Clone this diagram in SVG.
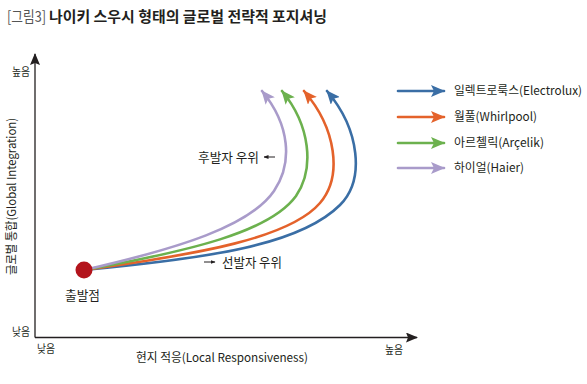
<svg xmlns="http://www.w3.org/2000/svg" width="587" height="384" viewBox="0 0 587 384">
<style>
text{font-family:"Noto Sans CJK KR","Noto Sans",sans-serif;fill:#231f20;}
.t{font-size:12px;}
.s{font-size:11px;}
.c{fill:none;stroke-width:2.6;stroke-linecap:round;}
.ax{stroke:#231f20;stroke-width:1.3;fill:none;}
</style>
<defs>
<marker id="hb" markerWidth="14" markerHeight="12" refX="13" refY="6" orient="auto" markerUnits="userSpaceOnUse"><path d="M0,0 L14,6 L0,12 L3,6 Z" fill="#3a6ea5"/></marker>
<marker id="ho" markerWidth="14" markerHeight="12" refX="13" refY="6" orient="auto" markerUnits="userSpaceOnUse"><path d="M0,0 L14,6 L0,12 L3,6 Z" fill="#e4622b"/></marker>
<marker id="hg" markerWidth="14" markerHeight="12" refX="13" refY="6" orient="auto" markerUnits="userSpaceOnUse"><path d="M0,0 L14,6 L0,12 L3,6 Z" fill="#6cb14e"/></marker>
<marker id="hp" markerWidth="14" markerHeight="12" refX="13" refY="6" orient="auto" markerUnits="userSpaceOnUse"><path d="M0,0 L14,6 L0,12 L3,6 Z" fill="#a99bca"/></marker>
<marker id="hk" markerWidth="12" markerHeight="10" refX="11" refY="5" orient="auto" markerUnits="userSpaceOnUse"><path d="M0,0 L12,5 L0,10 L2,5 Z" fill="#231f20"/></marker>
<marker id="hs" markerWidth="5" markerHeight="4" refX="4.5" refY="2" orient="auto" markerUnits="userSpaceOnUse"><path d="M0,0 L5,2 L0,4 Z" fill="#231f20"/></marker>
</defs>
<rect width="587" height="384" fill="#fff"/>
<g id="title">
<text x="7" y="22" style="font-size:14.5px;fill:#555;" textLength="39" lengthAdjust="spacingAndGlyphs">[그림3]</text>
<text x="49" y="22" style="font-size:14.5px;font-weight:bold;" textLength="278" lengthAdjust="spacingAndGlyphs">나이키 스우시 형태의 글로벌 전략적 포지셔닝</text>
</g>
<g id="axes">
<path class="ax" d="M35,337.5 L35,54" marker-end="url(#hk)"/>
<path class="ax" d="M35,337.5 L417,337.5" marker-end="url(#hk)"/>
<text class="s" x="12" y="76" textLength="18" lengthAdjust="spacingAndGlyphs">높음</text>
<text class="s" x="12" y="336" textLength="18" lengthAdjust="spacingAndGlyphs">낮음</text>
<text class="s" x="37" y="353" textLength="18" lengthAdjust="spacingAndGlyphs">낮음</text>
<text class="s" x="385" y="354" textLength="18" lengthAdjust="spacingAndGlyphs">높음</text>
<text class="t" transform="translate(16,275) rotate(-90)" x="0" y="0" textLength="157" lengthAdjust="spacingAndGlyphs">글로벌 통합(Global Integration)</text>
<text class="t" x="136" y="362" textLength="172" lengthAdjust="spacingAndGlyphs">현지 적응(Local Responsiveness)</text>
</g>
<g id="connectors">
<path class="c" stroke="#3a6ea5" d="M84,270 C210,258 300,245 340,205 C365,180 360,130 327,91" marker-end="url(#hb)"/>
<path class="c" stroke="#e4622b" d="M84,270 C200,254 290,238 320,203 C343,176 336,128 304,91" marker-end="url(#ho)"/>
<path class="c" stroke="#6cb14e" d="M84,270 C190,251 270,232 296,196 C315,168 310,125 282,91" marker-end="url(#hg)"/>
<path class="c" stroke="#a99bca" d="M84,270 C180,248 250,226 274,191 C293,163 290,125 262,91" marker-end="url(#hp)"/>
</g>
<g id="start">
<circle cx="84" cy="270" r="8.5" fill="#b3141c"/>
<text x="65" y="300" style="font-size:13px;" textLength="35" lengthAdjust="spacingAndGlyphs">출발점</text>
</g>
<g id="labels">
<path d="M204,262 L215,262" stroke="#231f20" stroke-width="1" marker-end="url(#hs)"/>
<text x="222" y="267" style="font-size:13px;" textLength="60" lengthAdjust="spacingAndGlyphs">선발자 우위</text>
<text x="198" y="162" style="font-size:13px;" textLength="61" lengthAdjust="spacingAndGlyphs">후발자 우위</text>
<path d="M275,157 L264,157" stroke="#231f20" stroke-width="1" marker-end="url(#hs)"/>
</g>
<g id="legend">
<path class="c" stroke="#3a6ea5" stroke-width="3" stroke-linecap="butt" d="M398,91 L444,91" marker-end="url(#hb)"/>
<path class="c" stroke="#e4622b" stroke-width="3" stroke-linecap="butt" d="M398,117 L444,117" marker-end="url(#ho)"/>
<path class="c" stroke="#6cb14e" stroke-width="3" stroke-linecap="butt" d="M398,143 L444,143" marker-end="url(#hg)"/>
<path class="c" stroke="#a99bca" stroke-width="3" stroke-linecap="butt" d="M398,168 L444,168" marker-end="url(#hp)"/>
<text class="t" x="454" y="95" textLength="128" lengthAdjust="spacingAndGlyphs">일렉트로룩스(Electrolux)</text>
<text class="t" x="454" y="121" textLength="83" lengthAdjust="spacingAndGlyphs">월풀(Whirlpool)</text>
<text class="t" x="454" y="147" textLength="90" lengthAdjust="spacingAndGlyphs">아르첼릭(Arçelik)</text>
<text class="t" x="454" y="172" textLength="70" lengthAdjust="spacingAndGlyphs">하이얼(Haier)</text>
</g>
</svg>
